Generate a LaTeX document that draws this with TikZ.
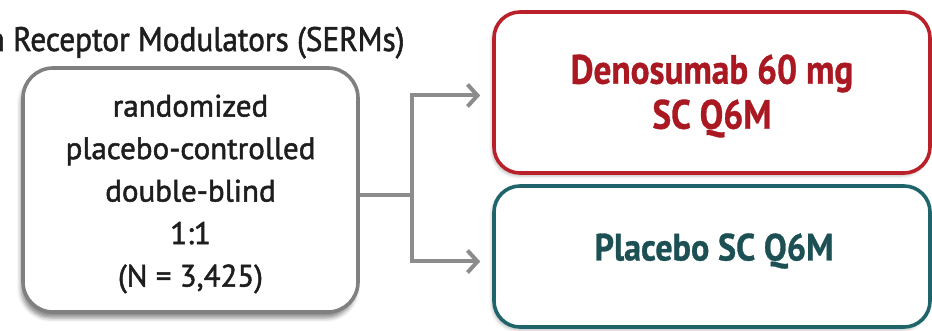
\documentclass[tikz,border=0pt]{standalone}
\usepackage{fontspec}
\setmainfont{PT Sans}[UprightFeatures={FakeBold=1.6}]
\newfontfamily\headfont{PT Sans}[FakeStretch=0.92, UprightFeatures={FakeBold=1.6}]
\newfontfamily\redarmfont{PT Sans}[FakeStretch=0.86, BoldFeatures={FakeBold=0.8}]
\newfontfamily\tealarmfont{PT Sans}[FakeStretch=0.9, BoldFeatures={FakeBold=0.8}]
\usetikzlibrary{arrows.meta,shadows.blur}

\definecolor{boxgray}{RGB}{128,128,128}
\definecolor{linkgray}{RGB}{140,140,140}
\definecolor{armred}{RGB}{185,32,42}
\definecolor{armredtext}{RGB}{170,24,34}
\definecolor{armteal}{RGB}{30,100,106}
\definecolor{armtealtext}{RGB}{28,80,84}
\definecolor{inktext}{RGB}{30,30,30}

\tikzset{
  panel/.style={draw, rounded corners=26pt, line width=3.6pt, fill=white,
    inner sep=0pt},
  studybox/.style={panel, draw=boxgray, rounded corners=30pt,
    blur shadow={shadow xshift=-2pt, shadow yshift=-6pt,
      shadow blur radius=4pt, shadow opacity=45}},
  armbox/.style={panel,
    blur shadow={shadow xshift=-2pt, shadow yshift=-3pt,
      shadow blur radius=3pt, shadow opacity=25}},
  boxtext/.style={inner sep=0pt, align=center},
  link/.style={draw=linkgray, line width=4pt},
  linkarrow/.style={link, -{Straight Barb[length=10pt,width=22pt]},
    shorten >=12pt}
}

\begin{document}
\begin{tikzpicture}[x=1pt,y=-1pt]
  \useasboundingbox (0,0) rectangle (932,331);

  % heading
  \node[anchor=base west, inner sep=0pt, text=inktext,
        font=\headfont\fontsize{34}{40}\selectfont]
    (head) at (13,51) {\llap{n }Receptor Modulators (SERMs)};

  % randomisation box
  \node[studybox, minimum width=335pt, minimum height=244pt]
    (study) at (190.5,190) {};
  \node[boxtext, text=inktext, font=\fontsize{31}{42.5}\selectfont]
    (studylabel) at (190.5,194)
    {randomized\\placebo-controlled\\double-blind\\1:1\\(N = 3,425)};

  % treatment arms
  \node[armbox, draw=armred, minimum width=436pt, minimum height=161pt]
    (deno) at (712,92.5) {};
  \node[boxtext, text=armredtext,
        font=\redarmfont\bfseries\fontsize{41}{45}\selectfont]
    (denolabel) at (712,96) {Denosumab 60 mg\\SC Q6M};
  \node[armbox, draw=armteal, minimum width=436pt, minimum height=141pt]
    (plac) at (712,256.5) {};
  \node[boxtext, text=armtealtext,
        font=\tealarmfont\bfseries\fontsize{38}{43}\selectfont]
    (placlabel) at (714,251) {Placebo SC Q6M};

  % branching connector
  \draw[link] ([yshift=-5pt]study.east) -- ++(52,0) coordinate (split);
  \draw[linkarrow] (split) |- ([yshift=-3pt]deno.west);
  \draw[linkarrow] (split) |- ([yshift=-5pt]plac.west);
\end{tikzpicture}
\end{document}
